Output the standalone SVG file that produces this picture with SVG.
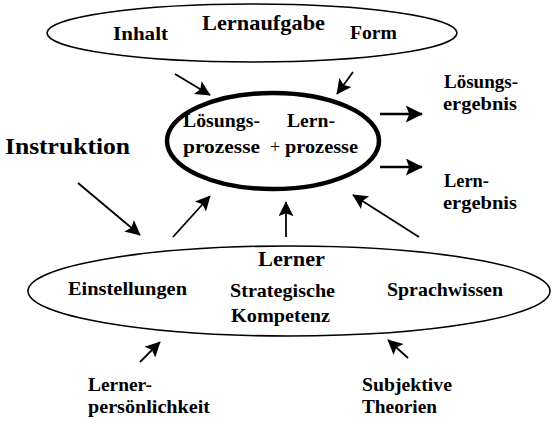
<svg xmlns="http://www.w3.org/2000/svg" width="553" height="429" viewBox="0 0 553 429">
<style>
text{font-family:"Liberation Serif","Times New Roman",serif;font-weight:bold;fill:#000;}
.t{font-size:19px;}
.thin{fill:none;stroke:#000;stroke-width:1.6;}
.c{fill:none;stroke:#000;stroke-width:1.8;}
.c2{fill:none;stroke:#000;stroke-width:2.4;}
</style>
<defs>
<marker id="ah" viewBox="0 0 10 10" refX="9.5" refY="5" markerWidth="18" markerHeight="15" markerUnits="userSpaceOnUse" orient="auto"><path d="M0,0 L10,5 L0,10 L2,5 z" fill="#000"/></marker>
<marker id="ahb" viewBox="0 0 10 10" refX="9.5" refY="5" markerWidth="21" markerHeight="17" markerUnits="userSpaceOnUse" orient="auto"><path d="M0,0 L10,5 L0,10 L2,5 z" fill="#000"/></marker>
</defs>
<rect width="553" height="429" fill="#fff"/>
<g id="lernaufgabe">
<ellipse class="thin" cx="252" cy="33" rx="205" ry="29"/>
<text x="202" y="30" font-size="21" textLength="123" lengthAdjust="spacingAndGlyphs">Lernaufgabe</text>
<text class="t" x="113" y="40" textLength="55" lengthAdjust="spacingAndGlyphs">Inhalt</text>
<text class="t" x="350" y="39" textLength="47" lengthAdjust="spacingAndGlyphs">Form</text>
</g>
<g id="prozesse">
<ellipse cx="273" cy="141" rx="106" ry="48" fill="none" stroke="#000" stroke-width="4.5"/>
<text class="t" x="183" y="127" textLength="77" lengthAdjust="spacingAndGlyphs">Lösungs-</text>
<text class="t" x="183" y="153" textLength="77" lengthAdjust="spacingAndGlyphs">prozesse</text>
<text class="t" x="287" y="127" textLength="48" lengthAdjust="spacingAndGlyphs">Lern-</text>
<text x="270" y="153" font-size="18" style="font-weight:normal">+</text>
<text class="t" x="285" y="153" textLength="73" lengthAdjust="spacingAndGlyphs">prozesse</text>
</g>
<g id="instruktion">
<text x="5" y="154" font-size="24" textLength="125" lengthAdjust="spacingAndGlyphs">Instruktion</text>
</g>
<g id="loesungsergebnis">
<text class="t" x="444" y="88" textLength="74" lengthAdjust="spacingAndGlyphs">Lösungs-</text>
<text class="t" x="443" y="110" textLength="74" lengthAdjust="spacingAndGlyphs">ergebnis</text>
</g>
<g id="lernergebnis">
<text class="t" x="444" y="187" textLength="45" lengthAdjust="spacingAndGlyphs">Lern-</text>
<text class="t" x="443" y="209" textLength="74" lengthAdjust="spacingAndGlyphs">ergebnis</text>
</g>
<g id="lerner">
<ellipse class="thin" cx="289" cy="291" rx="261" ry="45"/>
<text x="258" y="266" font-size="21" textLength="67" lengthAdjust="spacingAndGlyphs">Lerner</text>
<text class="t" x="68" y="295" textLength="119" lengthAdjust="spacingAndGlyphs">Einstellungen</text>
<text class="t" x="230" y="297" textLength="105" lengthAdjust="spacingAndGlyphs">Strategische</text>
<text class="t" x="231" y="322" textLength="99" lengthAdjust="spacingAndGlyphs">Kompetenz</text>
<text class="t" x="387" y="296" textLength="116" lengthAdjust="spacingAndGlyphs">Sprachwissen</text>
</g>
<g id="lernerpersoenlichkeit">
<text class="t" x="88" y="391" textLength="64" lengthAdjust="spacingAndGlyphs">Lerner-</text>
<text class="t" x="88" y="413" textLength="122" lengthAdjust="spacingAndGlyphs">persönlichkeit</text>
</g>
<g id="subjektive">
<text class="t" x="362" y="391" textLength="90" lengthAdjust="spacingAndGlyphs">Subjektive</text>
<text class="t" x="362" y="413" textLength="75" lengthAdjust="spacingAndGlyphs">Theorien</text>
</g>
<g id="connectors">
<line class="c" x1="175" y1="74" x2="210" y2="95" marker-end="url(#ah)"/>
<line class="c" x1="353" y1="72" x2="337" y2="94" marker-end="url(#ah)"/>
<line class="c2" x1="380" y1="114" x2="422" y2="114" marker-end="url(#ahb)"/>
<line class="c2" x1="380" y1="167" x2="422" y2="167" marker-end="url(#ahb)"/>
<line class="c" x1="78" y1="183" x2="140" y2="235" marker-end="url(#ah)"/>
<line class="c" x1="173" y1="237" x2="210" y2="196" marker-end="url(#ah)"/>
<line class="c" x1="286" y1="237" x2="286" y2="202" marker-end="url(#ah)"/>
<line class="c" x1="419" y1="237" x2="353" y2="195" marker-end="url(#ah)"/>
<line class="c" x1="140" y1="362" x2="160" y2="342" marker-end="url(#ah)"/>
<line class="c" x1="408" y1="358" x2="388" y2="340" marker-end="url(#ah)"/>
</g>
</svg>
